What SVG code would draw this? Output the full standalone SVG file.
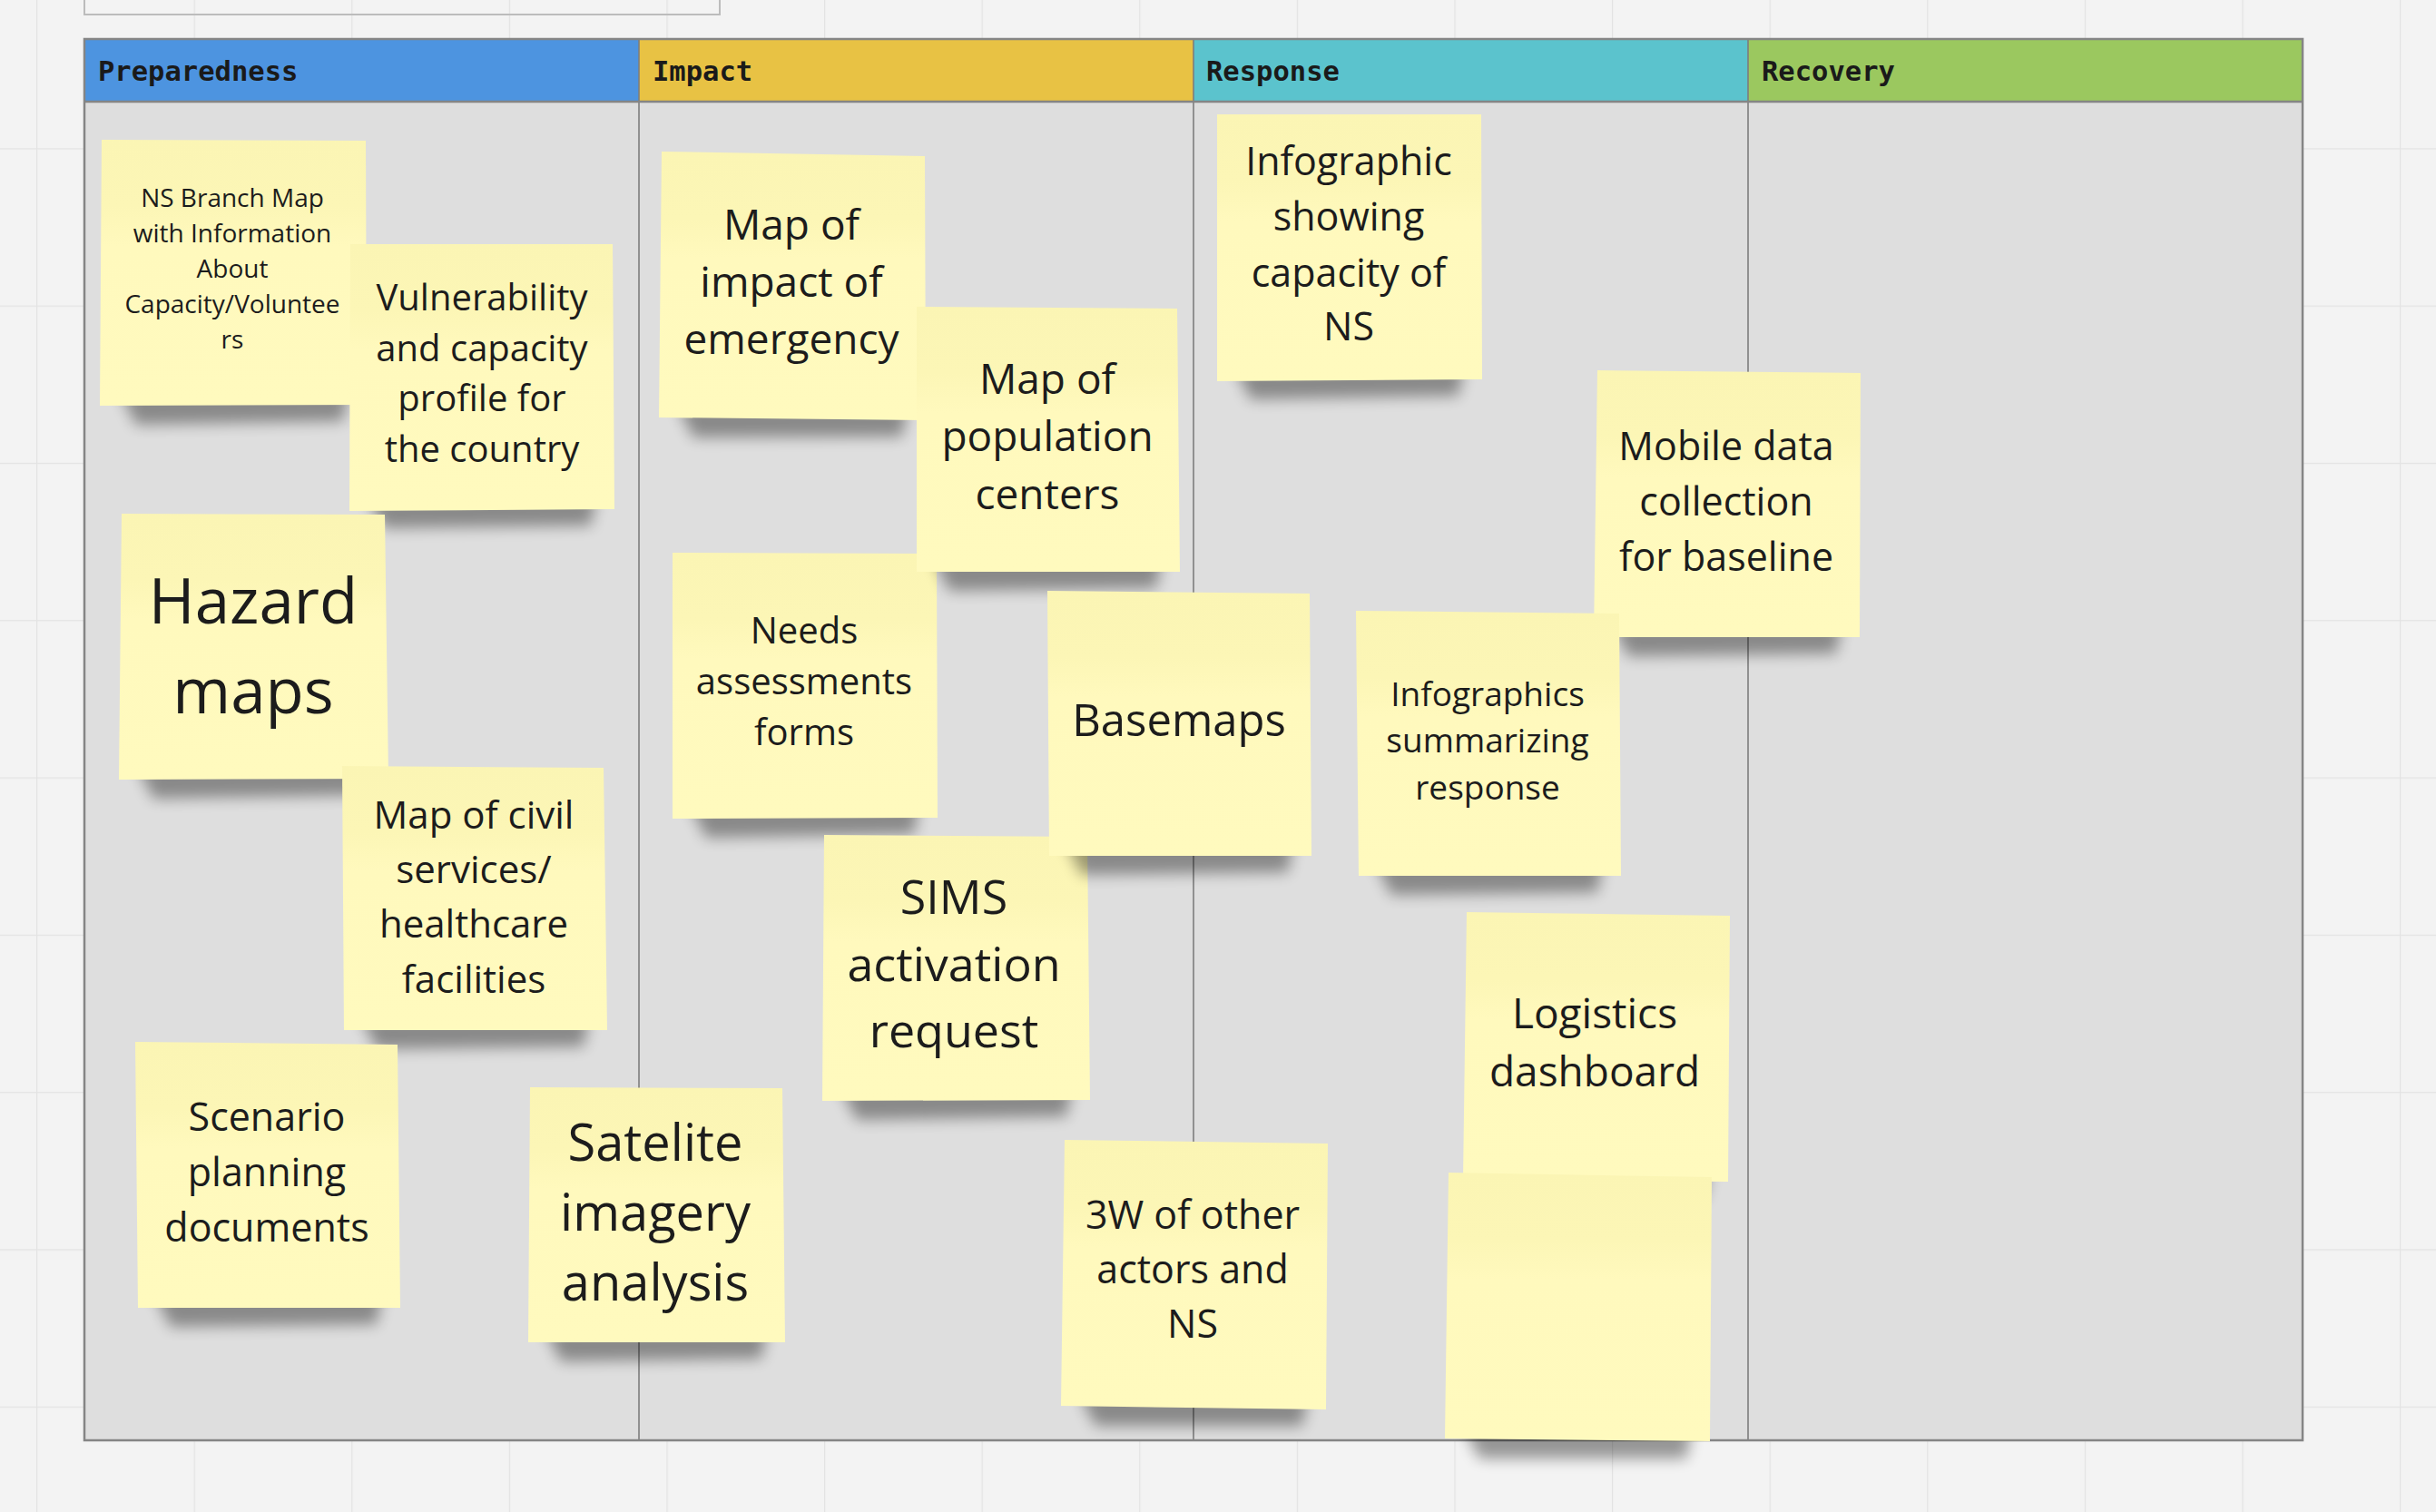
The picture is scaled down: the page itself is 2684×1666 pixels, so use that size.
<svg xmlns="http://www.w3.org/2000/svg" width="2684" height="1666" viewBox="0 0 2684 1666">
<style>
.note{fill:url(#ng)}
.sh{fill:#000;opacity:.38;filter:url(#blur)}
.t{font-family:"Open Sans","Noto Sans","Liberation Sans",sans-serif;fill:#1c1c1c;text-anchor:middle}
.hd{font-family:"DejaVu Sans Mono","Liberation Mono",monospace;font-weight:bold;font-size:30.5px;fill:#1a1a1a}
.div{stroke:#7d7d7d;stroke-width:1.6}
</style>
<defs>
<pattern id="grid" patternUnits="userSpaceOnUse" x="40" y="-10" width="173.6" height="173.3">
<path d="M0 0V173.3M0 0H173.6" fill="none" stroke="#e3e3e3" stroke-width="2.5"/>
</pattern>
<linearGradient id="ng" x1="0" y1="0" x2="0" y2="1">
<stop offset="0" stop-color="#fbf5b4"/>
<stop offset="0.25" stop-color="#fcf6b6"/>
<stop offset="0.4" stop-color="#fff9bd"/>
<stop offset="1" stop-color="#fffabe"/>
</linearGradient>
<filter id="blur" x="-20%" y="-120%" width="140%" height="340%">
<feGaussianBlur stdDeviation="8"/>
</filter>
</defs>
<rect width="2684" height="1666" fill="#f3f3f3"/>
<rect width="2684" height="1666" fill="url(#grid)"/>
<rect x="93" y="-10" width="700" height="26" fill="none" stroke="#bcbcbc" stroke-width="2"/>

<g id="board">
<rect x="93" y="43" width="2444" height="1544" fill="#dedede"/>
<rect x="93" y="43" width="611" height="69" fill="#4d94e0"/>
<rect x="704" y="43" width="611" height="69" fill="#e8c244"/>
<rect x="1315" y="43" width="611" height="69" fill="#5bc3cd"/>
<rect x="1926" y="43" width="611" height="69" fill="#9bc85f"/>
<line class="div" x1="704" y1="43" x2="704" y2="1587"/>
<line class="div" x1="1315" y1="43" x2="1315" y2="1587"/>
<line class="div" x1="1926" y1="43" x2="1926" y2="1587"/>
<line x1="93" y1="112" x2="2537" y2="112" stroke="#858585" stroke-width="2.5"/>
<rect x="93" y="43" width="2444" height="1544" fill="none" stroke="#858585" stroke-width="2.5"/>
<text class="hd" x="108" y="89">Preparedness</text>
<text class="hd" x="719" y="89">Impact</text>
<text class="hd" x="1329" y="89">Response</text>
<text class="hd" x="1941" y="89">Recovery</text>
</g>

<g id="connectors"></g>

<g id="n-ns-branch">
<polygon class="sh" points="132,432 384,432 378,464 150,468"/>
<polygon class="note" points="112,154 403,155 404,446 110,447"/>
<text class="t" font-size="28"><tspan x="256" y="228">NS Branch Map</tspan><tspan x="256" y="267">with Information</tspan><tspan x="256" y="306">About</tspan><tspan x="256" y="345">Capacity/Voluntee</tspan><tspan x="256" y="384">rs</tspan></text>
</g>
<g id="n-vulnerability">
<polygon class="sh" points="405,548 657,546 651,579 423,582"/>
<polygon class="note" points="386,269 675,269 677,561 385,563"/>
<text class="t" font-size="40"><tspan x="531" y="342">Vulnerability</tspan><tspan x="531" y="398">and capacity</tspan><tspan x="531" y="453">profile for</tspan><tspan x="531" y="509">the country</tspan></text>
</g>
<g id="n-hazard">
<polygon class="sh" points="151,844 408,843 402,876 169,880"/>
<polygon class="note" points="134,566 424,567 428,858 131,859"/>
<text class="t" font-size="69"><tspan x="279" y="687">Hazard</tspan><tspan x="279" y="786">maps</tspan></text>
</g>
<g id="n-civil">
<polygon class="sh" points="397,1120 649,1120 643,1153 415,1156"/>
<polygon class="note" points="377,844 665,846 669,1135 379,1135"/>
<text class="t" font-size="42"><tspan x="522" y="913">Map of civil</tspan><tspan x="522" y="973">services/</tspan><tspan x="522" y="1033">healthcare</tspan><tspan x="522" y="1094">facilities</tspan></text>
</g>
<g id="n-scenario">
<polygon class="sh" points="170,1426 421,1426 415,1459 188,1462"/>
<polygon class="note" points="149,1148 438,1151 441,1441 152,1441"/>
<text class="t" font-size="43"><tspan x="294" y="1246">Scenario</tspan><tspan x="294" y="1307">planning</tspan><tspan x="294" y="1368">documents</tspan></text>
</g>
<g id="n-satelite">
<polygon class="sh" points="600,1464 845,1464 839,1497 618,1500"/>
<polygon class="note" points="584,1198 862,1199 865,1479 582,1479"/>
<text class="t" font-size="56"><tspan x="722" y="1279">Satelite</tspan><tspan x="722" y="1356">imagery</tspan><tspan x="722" y="1433">analysis</tspan></text>
</g>
<g id="n-impact">
<polygon class="sh" points="746,446 1000,448 994,481 764,482"/>
<polygon class="note" points="729,167 1019,172 1020,463 726,460"/>
<text class="t" font-size="46"><tspan x="872" y="264">Map of</tspan><tspan x="872" y="327">impact of</tspan><tspan x="872" y="390">emergency</tspan></text>
</g>
<g id="n-needs">
<polygon class="sh" points="760,887 1013,886 1007,919 778,923"/>
<polygon class="note" points="741,609 1032,610 1033,901 741,902"/>
<text class="t" font-size="40"><tspan x="886" y="709">Needs</tspan><tspan x="886" y="765">assessments</tspan><tspan x="886" y="821">forms</tspan></text>
</g>
<g id="n-population">
<polygon class="sh" points="1028,615 1280,615 1274,648 1046,651"/>
<polygon class="note" points="1010,338 1297,340 1300,630 1010,630"/>
<text class="t" font-size="46"><tspan x="1154" y="434">Map of</tspan><tspan x="1154" y="497">population</tspan><tspan x="1154" y="561">centers</tspan></text>
</g>
<g id="n-sims">
<polygon class="sh" points="926,1198 1181,1197 1175,1230 944,1234"/>
<polygon class="note" points="908,920 1198,922 1201,1212 906,1213"/>
<text class="t" font-size="52"><tspan x="1051" y="1007">SIMS</tspan><tspan x="1051" y="1081">activation</tspan><tspan x="1051" y="1154">request</tspan></text>
</g>
<g id="n-basemaps">
<polygon class="sh" points="1174,928 1425,928 1419,961 1192,964"/>
<polygon class="note" points="1154,651 1443,654 1445,943 1156,943"/>
<text class="t" font-size="49"><tspan x="1299" y="811">Basemaps</tspan></text>
</g>
<g id="n-infographic-ns">
<polygon class="sh" points="1360,404 1613,403 1607,436 1378,440"/>
<polygon class="note" points="1341,126 1632,126 1633,418 1341,420"/>
<text class="t" font-size="43"><tspan x="1486" y="193">Infographic</tspan><tspan x="1486" y="254">showing</tspan><tspan x="1486" y="316">capacity of</tspan><tspan x="1486" y="375">NS</tspan></text>
</g>
<g id="n-mobile">
<polygon class="sh" points="1776,688 2029,687 2023,720 1794,723"/>
<polygon class="note" points="1760,408 2050,411 2049,702 1756,702"/>
<text class="t" font-size="43"><tspan x="1902" y="507">Mobile data</tspan><tspan x="1902" y="568">collection</tspan><tspan x="1902" y="629">for baseline</tspan></text>
</g>
<g id="n-infographics-summary">
<polygon class="sh" points="1515,950 1766,950 1760,983 1533,986"/>
<polygon class="note" points="1494,673 1784,676 1786,965 1497,965"/>
<text class="t" font-size="37"><tspan x="1639" y="778">Infographics</tspan><tspan x="1639" y="829">summarizing</tspan><tspan x="1639" y="881">response</tspan></text>
</g>
<g id="n-3w">
<polygon class="sh" points="1189,1536 1441,1538 1435,1571 1207,1571"/>
<polygon class="note" points="1173,1256 1463,1260 1461,1553 1169,1549"/>
<text class="t" font-size="43"><tspan x="1314" y="1354">3W of other</tspan><tspan x="1314" y="1414">actors and</tspan><tspan x="1314" y="1474">NS</tspan></text>
</g>
<g id="n-logistics">
<polygon class="sh" points="1632,1286 1884,1288 1878,1321 1650,1321"/>
<polygon class="note" points="1616,1005 1906,1009 1904,1302 1612,1300"/>
<text class="t" font-size="46"><tspan x="1757" y="1133">Logistics</tspan><tspan x="1757" y="1197">dashboard</tspan></text>
</g>
<g id="n-empty">
<polygon class="sh" points="1612,1572 1864,1574 1858,1607 1630,1607"/>
<polygon class="note" points="1596,1292 1886,1297 1884,1588 1592,1585"/>
</g>
</svg>
